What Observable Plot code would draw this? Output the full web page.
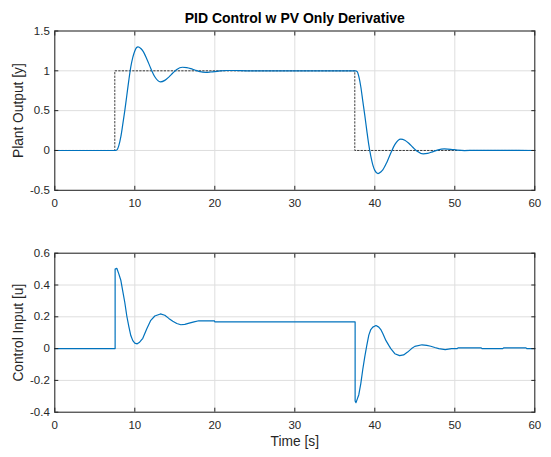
<!DOCTYPE html>
<html>
<head>
<meta charset="utf-8">
<script src="https://cdn.jsdelivr.net/npm/d3@7"></script>
<script src="https://cdn.jsdelivr.net/npm/@observablehq/plot@0.6"></script>
<style>
  html, body { margin: 0; padding: 0; background: #fff; }
  #wrap { position: relative; width: 551px; height: 457px; background: #fff; }
  #top, #bottom { position: absolute; left: 0; }
  #top { top: 0; }
  #bottom { top: 222px; }
</style>
</head>
<body>
<div id="wrap"><div id="top"></div><div id="bottom"></div></div>
<script>
// ---- Data ----
const title = "PID Control w PV Only Derivative";
const yLabelTop = "Plant Output [y]";
const yLabelBottom = "Control Input [u]";
const xLabel = "Time [s]";

const xTicks = [0, 10, 20, 30, 40, 50, 60];
const yTicksTop = [-0.5, 0, 0.5, 1, 1.5];
const yTicksBottom = [-0.4, -0.2, 0, 0.2, 0.4, 0.6];

// Setpoint (dotted, step-after)
const spTime  = [0, 7.5, 37.5, 60];
const spValue = [0, 1, 0, 0];

// Plant output y
const yTime = [0, 7.6, 7.8, 8.0, 8.25, 8.5, 8.75, 9.0, 9.25, 9.5, 9.75, 10.0, 10.2, 10.4, 10.75, 11.0, 11.5, 12.0, 12.5, 13.2, 13.75, 14.25, 14.75, 15.25, 15.95, 16.5, 17.0, 17.5, 18.0, 18.9, 19.5, 20.5, 21.5, 22.5, 24, 37.6,
  37.8, 38.0, 38.25, 38.5, 38.75, 39.0, 39.25, 39.5, 39.75, 40.0, 40.4, 40.75, 41.0, 41.5, 42.0, 42.5, 43.25, 43.75, 44.25, 44.75, 45.25, 46.05, 46.6, 47.2, 47.8, 48.7, 49.5, 50.3, 51.2, 52.5, 55, 60];
const yValue = [0, 0, 0.01, 0.06, 0.17, 0.33, 0.5, 0.69, 0.88, 1.05, 1.17, 1.25, 1.29, 1.30, 1.28, 1.25, 1.15, 1.03, 0.925, 0.862, 0.88, 0.921, 0.972, 1.018, 1.045, 1.04, 1.027, 1.01, 0.994, 0.98, 0.985, 0.997, 1.004, 1.004, 1.0, 1.0,
  0.99, 0.93, 0.8, 0.62, 0.44, 0.25, 0.07, -0.07, -0.18, -0.25, -0.29, -0.27, -0.244, -0.15, -0.032, 0.073, 0.142, 0.128, 0.09, 0.04, -0.007, -0.042, -0.036, -0.017, 0.004, 0.02, 0.015, 0.005, -0.001, 0.002, 0.002, 0];

// Control input u
const uTime = [0, 7.54, 7.54, 7.75, 8.0, 8.25, 8.5, 8.75, 9.0, 9.25, 9.5, 9.75, 10.0, 10.3, 10.6, 11.0, 11.5, 12.0, 12.5, 13.2, 13.75, 14.25, 14.75, 15.25, 15.75, 16.25, 16.8, 17.4, 18.0, 19.95, 20.0, 37.54,
  37.54, 37.65, 38.0, 38.25, 38.5, 38.75, 39.0, 39.25, 39.5, 39.75, 40.15, 40.5, 40.75, 41.0, 41.4, 41.75, 42.0, 42.5, 43.1, 43.6, 44.1, 44.6, 45.0, 45.9, 46.5, 47.0, 47.5, 48.0, 48.8, 49.6, 50.3, 50.4, 53.3, 53.4, 56.0, 56.1, 58.9, 59.0, 60];
const uValue = [0, 0, 0.50, 0.505, 0.47, 0.43, 0.36, 0.29, 0.205, 0.14, 0.082, 0.05, 0.034, 0.03, 0.04, 0.065, 0.125, 0.178, 0.205, 0.218, 0.21, 0.19, 0.172, 0.158, 0.15, 0.152, 0.16, 0.168, 0.175, 0.175, 0.168, 0.168,
  -0.33, -0.34, -0.29, -0.22, -0.13, -0.05, 0.02, 0.085, 0.12, 0.135, 0.145, 0.135, 0.12, 0.095, 0.05, 0.02, 0.0, -0.032, -0.044, -0.04, -0.022, 0.0, 0.014, 0.024, 0.02, 0.015, 0.007, 0.0, -0.006, 0.0, 0.0, 0.005, 0.005, 0.0, 0.0, 0.005, 0.005, 0.0, 0.0];

// ---- Tables built from arrays ----
const setpoint = spTime.map((t, i) => ({t, v: spValue[i]}));
const output = yTime.map((t, i) => ({t, v: yValue[i]}));
const control = uTime.map((t, i) => ({t, v: uValue[i]}));

const ink = "#262626";
const gridColor = "#dedede";
const lineColor = "#0072BD";
const font = "'Liberation Sans', Arial, Helvetica, sans-serif";
const fmt = d => String(d);

function frameMarks(yTicks, yLabel) {
  return [
    Plot.gridX(xTicks, {stroke: gridColor, strokeOpacity: 1, strokeWidth: 1}),
    Plot.gridY(yTicks, {stroke: gridColor, strokeOpacity: 1, strokeWidth: 1}),
  ];
}
function axisMarks(yTicks, yLabel) {
  return [
    Plot.frame({stroke: ink, strokeWidth: 1}),
    Plot.axisX(xTicks, {tickSize: 0, tickPadding: 9, tickFormat: fmt, label: null, fontSize: 11.5, fill: ink}),
    Plot.axisX(xTicks, {tickSize: -4, tickFormat: () => "", label: null, stroke: ink}),
    Plot.axisX(xTicks, {anchor: "top", tickSize: -4, tickFormat: () => "", label: null, stroke: ink}),
    Plot.axisY(yTicks, {tickSize: 0, tickPadding: 5, tickFormat: fmt, label: null, fontSize: 11.5, fill: ink}),
    Plot.axisY(yTicks, {tickSize: -4, tickFormat: () => "", label: null, stroke: ink}),
    Plot.axisY(yTicks, {anchor: "right", tickSize: -4, tickFormat: () => "", label: null, stroke: ink}),
    Plot.text([yLabel], {frameAnchor: "left", rotate: -90, dx: -36, lineAnchor: "middle", textAnchor: "middle", fontSize: 13.75, fill: ink})
  ];
}

const topChart = Plot.plot({
  width: 551, height: 225,
  marginLeft: 54.3, marginRight: 16.7, marginTop: 30.5, marginBottom: 35.2,
  x: {domain: [0, 60]},
  y: {domain: [-0.5, 1.5]},
  style: {fontFamily: font, fontSize: "11.5px", color: ink, background: "transparent"},
  marks: [
    ...frameMarks(yTicksTop),
    Plot.line(setpoint, {x: "t", y: "v", curve: "step-after", stroke: ink, strokeWidth: 0.9, strokeDasharray: "1.5,2"}),
    Plot.line(output, {x: "t", y: "v", curve: "monotone-x", stroke: lineColor, strokeWidth: 1.2}),
    ...axisMarks(yTicksTop, yLabelTop),
    Plot.text([title], {frameAnchor: "top", dy: -12, lineAnchor: "middle", fontWeight: "bold", fontSize: 14, fill: "#000"})
  ]
});

const bottomChart = Plot.plot({
  width: 551, height: 235,
  marginLeft: 54.3, marginRight: 16.7, marginTop: 30.7, marginBottom: 45.3,
  x: {domain: [0, 60]},
  y: {domain: [-0.4, 0.6]},
  style: {fontFamily: font, fontSize: "11.5px", color: ink, background: "transparent"},
  marks: [
    ...frameMarks(yTicksBottom),
    Plot.line(control, {x: "t", y: "v", curve: "linear", stroke: lineColor, strokeWidth: 1.2}),
    ...axisMarks(yTicksBottom, yLabelBottom),
    Plot.text([xLabel], {frameAnchor: "bottom", dy: 29.3, lineAnchor: "middle", fontSize: 13.75, fill: ink})
  ]
});

document.getElementById("top").appendChild(topChart);
document.getElementById("bottom").appendChild(bottomChart);
</script>
</body>
</html>
